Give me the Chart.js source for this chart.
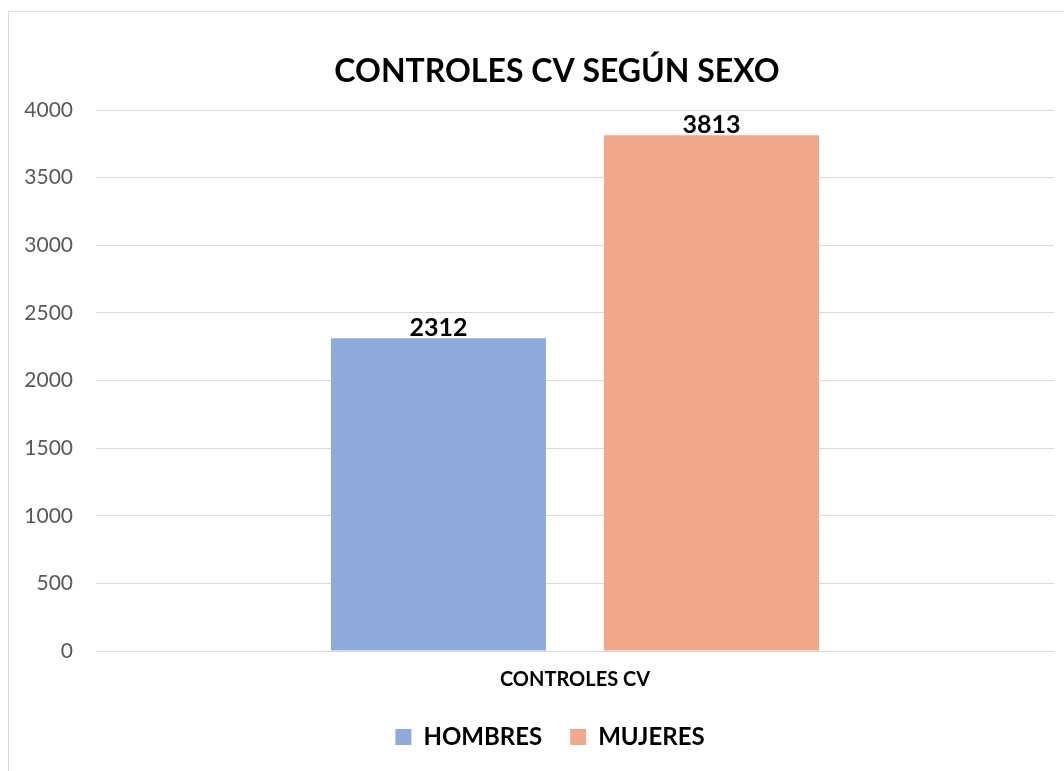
<!DOCTYPE html>
<html>
<head>
<meta charset="utf-8">
<script src="https://cdn.jsdelivr.net/npm/chart.js@4.4.1/dist/chart.umd.min.js"></script>
<style>
  html, body { margin: 0; padding: 0; background: #ffffff; overflow: hidden; }
  #wrap { position: relative; width: 1064px; height: 771px; }
  #frame { position: absolute; left: 8px; top: 11px; width: 1200px; height: 900px; border: 1px solid #d9d9d9; box-sizing: border-box; }
  canvas { position: absolute; left: 0; top: 0; }
</style>
</head>
<body>
<div id="wrap">
  <div id="frame"></div>
  <canvas id="c" width="1064" height="771"></canvas>
</div>
<script>
const chartTitle = "CONTROLES CV SEGÚN SEXO";
const categories = ["CONTROLES CV"];
const seriesNames = ["HOMBRES", "MUJERES"];
const hombres = [2312];
const mujeres = [3813];
const yTicks = [0, 500, 1000, 1500, 2000, 2500, 3000, 3500, 4000];

const FONT = "Lato, 'Open Sans', sans-serif";

const titlePlugin = {
  id: 'customTitle',
  afterDraw(chart) {
    const ctx = chart.ctx;
    ctx.save();
    ctx.font = "bold 32px " + FONT;
    ctx.fillStyle = "#000000";
    ctx.textAlign = "center";
    ctx.textBaseline = "alphabetic";
    ctx.fillText(chartTitle, 557, 82);
    ctx.restore();
  }
};

const valueLabels = {
  id: 'valueLabels',
  afterDatasetsDraw(chart) {
    const ctx = chart.ctx;
    ctx.save();
    ctx.font = "bold 25px " + FONT;
    ctx.fillStyle = "#000000";
    ctx.textAlign = "center";
    ctx.textBaseline = "alphabetic";
    chart.data.datasets.forEach((ds, i) => {
      const meta = chart.getDatasetMeta(i);
      meta.data.forEach((bar, j) => {
        ctx.fillText(String(ds.data[j]), bar.x, bar.y - 2);
      });
    });
    ctx.restore();
  }
};

new Chart(document.getElementById('c'), {
  type: 'bar',
  data: {
    labels: categories,
    datasets: [
      { label: seriesNames[0], data: hombres, backgroundColor: '#8FAADC', borderWidth: 0 },
      { label: seriesNames[1], data: mujeres, backgroundColor: '#F1A78A', borderWidth: 0 }
    ]
  },
  options: {
    responsive: false,
    animation: false,
    devicePixelRatio: 1,
    categoryPercentage: 0.57,
    barPercentage: 0.7875,
    layout: { padding: { top: 110, right: 10, left: 46, bottom: 12 } },
    plugins: {
      title: { display: false },
      tooltip: { enabled: false },
      legend: {
        display: true,
        position: 'bottom',
        labels: {
          boxWidth: 16,
          boxHeight: 16,
          padding: 28,
          color: '#000000',
          font: { family: FONT, size: 24, weight: 'bold' }
        }
      }
    },
    scales: {
      x: {
        afterFit(axis) { axis.height = axis.height - 12; },
        grid: { display: false, drawTicks: false },
        border: { display: false },
        ticks: {
          color: '#000000',
          padding: 17,
          font: { family: FONT, size: 20, weight: 'bold' }
        }
      },
      y: {
        min: 0,
        max: 4000,
        afterBuildTicks(axis) { axis.ticks = yTicks.map(v => ({ value: v })); },
        afterFit(axis) {
          axis.width = 50;
          axis._computeLabelArea = function () { return undefined; };
        },
        grid: { color: '#d9d9d9', lineWidth: 1, drawTicks: false },
        border: { display: false },
        ticks: {
          color: '#595959',
          padding: 23,
          font: { family: FONT, size: 21 },
          callback: (v) => String(v)
        }
      }
    }
  },
  plugins: [titlePlugin, valueLabels]
});
</script>
</body>
</html>
